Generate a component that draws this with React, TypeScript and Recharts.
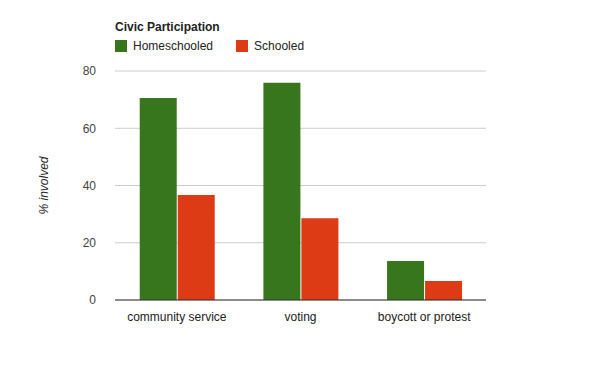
import { BarChart, Bar, XAxis, YAxis, CartesianGrid, Label } from 'recharts';

const categories = ['community service', 'voting', 'boycott or protest'];
const homeschooled = [70.6, 75.9, 13.6];
const schooled = [36.7, 28.6, 6.6];
const yTicks = [0, 20, 40, 60, 80];

const data = categories.map((c, i) => ({
  name: c,
  homeschooled: homeschooled[i],
  schooled: schooled[i],
}));

const FONT = 'Arial, "Liberation Sans", sans-serif';

const TitleLegend = () => (
  <div style={{ position: 'absolute', top: 20, left: 115, fontFamily: FONT, color: '#222', fontSize: 12 }}>
    <div style={{ fontWeight: 700, marginBottom: 5 }}>Civic Participation</div>
    <div style={{ display: 'flex', alignItems: 'center' }}>
      <span style={{ width: 12, height: 12, background: '#38761d', display: 'inline-block', marginRight: 6 }} />
      <span style={{ marginRight: 23 }}>Homeschooled</span>
      <span style={{ width: 12, height: 12, background: '#dd3b15', display: 'inline-block', marginRight: 6 }} />
      <span>Schooled</span>
    </div>
  </div>
);

export default function App() {
  return (
    <div style={{ position: 'absolute', left: 0, top: 0, width: 600, height: 371, background: '#fff' }}>
      <BarChart
        width={600}
        height={371}
        data={data}
        margin={{ top: 71, right: 114, bottom: 41, left: 0 }}
        barCategoryGap="20%"
        barGap={1}
      >
        <CartesianGrid vertical={false} stroke="#cccccc" />
        <XAxis
          dataKey="name"
          height={30}
          tickLine={false}
          axisLine={{ stroke: '#333333' }}
          tick={{ fill: '#222', fontSize: 12, fontFamily: FONT }}
          tickMargin={6}
        />
        <YAxis
          width={115}
          domain={[0, 80]}
          ticks={yTicks}
          tickLine={false}
          axisLine={false}
          tick={{ fill: '#444', fontSize: 12, fontFamily: FONT }}
          tickMargin={13}
        >
          <Label
            value="% involved"
            angle={-90}
            position="insideLeft"
            offset={44}
            style={{ fill: '#222', fontSize: 12, fontStyle: 'italic', fontFamily: FONT, textAnchor: 'middle' }}
          />
        </YAxis>
        <Bar dataKey="homeschooled" fill="#38761d" isAnimationActive={false} />
        <Bar dataKey="schooled" fill="#dd3b15" isAnimationActive={false} />
      </BarChart>
      <TitleLegend />
    </div>
  );
}
